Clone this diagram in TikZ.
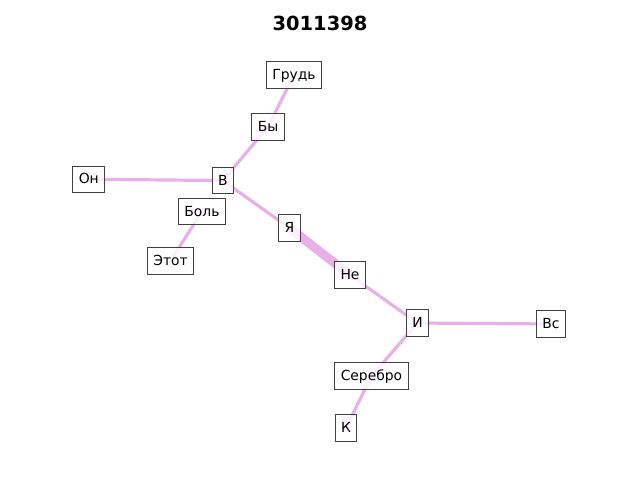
\documentclass[tikz,border=0pt]{standalone}
\usepackage{fontspec}
\setmainfont{DejaVu Sans}
\usepackage{tikz}
\usetikzlibrary{backgrounds}
\definecolor{edgepink}{RGB}{232,176,232}
\definecolor{boxgray}{RGB}{64,64,64}
\tikzstyle{word}=[draw=boxgray,fill=white,fill opacity=0.8,text opacity=1,line width=0.7pt,inner xsep=4.3pt,inner ysep=3.4pt,text height=9.4pt,text depth=2.8pt,font=\fontsize{10}{12}\selectfont]
\tikzstyle{link}=[draw=edgepink,line width=2.3pt]

\begin{document}
\begin{tikzpicture}[x=0.72pt,y=-0.72pt]
  \useasboundingbox (0,0) rectangle (640,480);
  \node[font=\fontsize{14}{16}\selectfont\bfseries] (title) at (320,23) {3011398};

  \node[word] (grud) at (294,75) {Грудь};
  \node[word] (by) at (268,127) {Бы};
  \node[word] (v) at (222.8,180.5) {В};
  \node[word] (on) at (88.8,179.3) {Он};
  \node[word] (bol) at (202,211.5) {Боль};
  \node[word] (etot) at (170.5,261) {Этот};
  \node[word] (ya) at (289.5,228) {Я};
  \node[word] (ne) at (350,275) {Не};
  \node[word] (i) at (417.5,323) {И};
  \node[word] (vs) at (551,324) {Вс};
  \node[word] (serebro) at (371.5,376) {Серебро};
  \node[word] (k) at (346,428) {К};

  \begin{pgfonlayer}{background}
    \foreach \a/\b in {grud/by,by/v,on/v,bol/etot,v/ya,ne/i,i/vs,i/serebro,serebro/k}{
      \draw[link] (\a.center) -- (\b.center);
    }
    \draw[link,line width=6.5pt] (ya.center) -- (ne.center);
  \end{pgfonlayer}
\end{tikzpicture}
\end{document}
